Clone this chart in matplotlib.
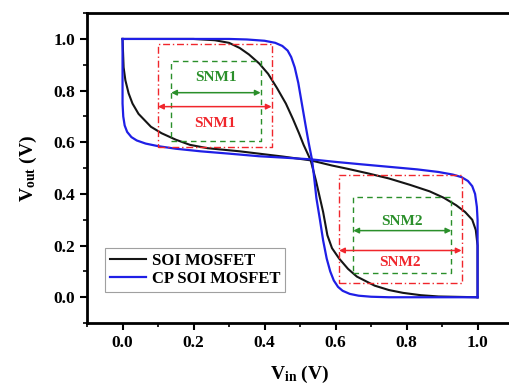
import matplotlib
matplotlib.use('Agg')
import matplotlib.pyplot as plt
from matplotlib.ticker import MultipleLocator

plt.rcParams['font.family'] = ['Liberation Serif', 'DejaVu Serif']
plt.rcParams['font.weight'] = 'bold'
plt.rcParams['mathtext.fontset'] = 'custom'
plt.rcParams['mathtext.rm'] = 'Liberation Serif:bold'
plt.rcParams['mathtext.bf'] = 'Liberation Serif:bold'
plt.rcParams['mathtext.it'] = 'Liberation Serif:bold'

# VTC of the SOI MOSFET inverter (Vin, Vout); butterfly = curve + its mirror
soi_vin = [0.0, 0.2, 0.26, 0.3, 0.33, 0.356, 0.385, 0.41, 0.435, 0.46, 0.48,
           0.497, 0.51, 0.52, 0.53, 0.545, 0.555, 0.565, 0.577, 0.59, 0.61,
           0.635, 0.66, 0.71, 0.75, 0.79, 0.84, 0.89, 1.0]
soi_vout = [1.0, 1.0, 0.995, 0.985, 0.965, 0.94, 0.905, 0.865, 0.81, 0.75, 0.69,
            0.635, 0.59, 0.56, 0.53, 0.45, 0.39, 0.33, 0.24, 0.19, 0.15,
            0.11, 0.08, 0.045, 0.028, 0.017, 0.008, 0.003, 0.0]

# VTC of the CP SOI MOSFET inverter
cp_vin = [0.0, 0.3, 0.35, 0.40, 0.43, 0.45, 0.465, 0.475, 0.485, 0.495, 0.505,
          0.515, 0.524, 0.534, 0.54, 0.546, 0.556, 0.565, 0.575, 0.585, 0.595,
          0.607, 0.62, 0.64, 0.665, 0.7, 0.75, 1.0]
cp_vout = [1.0, 1.0, 0.998, 0.993, 0.985, 0.973, 0.955, 0.93, 0.89, 0.83, 0.75,
           0.67, 0.6, 0.53, 0.46, 0.384, 0.30, 0.22, 0.15, 0.10, 0.065,
           0.04, 0.025, 0.013, 0.006, 0.002, 0.0, 0.0]

# noise-margin boxes: (x0, x1, y0, y1), arrows: (x0, x1, y)
snm1_red = (0.10, 0.42, 0.582, 0.982)
snm1_green = (0.137, 0.389, 0.604, 0.915)
snm2_red = (0.61, 0.955, 0.055, 0.473)
snm2_green = (0.65, 0.926, 0.092, 0.388)
arrow1_red = (0.10, 0.42, 0.738)
arrow1_green = (0.137, 0.389, 0.792)
arrow2_red = (0.61, 0.955, 0.181)
arrow2_green = (0.65, 0.926, 0.258)

red = '#f0262c'
green = '#2a8f2a'
blue = '#1f1fe6'

fig = plt.figure(figsize=(5.09, 3.86), dpi=100)
ax = fig.add_axes([0.171, 0.163, 0.837, 0.803])

ax.plot(soi_vin, soi_vout, color='#151515', lw=1.5, label='SOI MOSFET')
ax.plot(soi_vout, soi_vin, color='#151515', lw=1.5)
ax.plot(cp_vin, cp_vout, color=blue, lw=1.6, label='CP SOI MOSFET')
ax.plot(cp_vout, cp_vin, color=blue, lw=1.6)


def box(b, color, ls):
    x0, x1, y0, y1 = b
    ax.plot([x0, x1, x1, x0, x0], [y0, y0, y1, y1, y0], color=color, ls=ls, lw=1.0)


def arrow(a, color):
    x0, x1, y = a
    ax.annotate('', xy=(x1, y), xytext=(x0, y),
                arrowprops=dict(arrowstyle='<|-|>', color=color, lw=1.1,
                                mutation_scale=8, shrinkA=0, shrinkB=0))


box(snm1_red, red, (0, (5, 2, 1, 2)))
box(snm2_red, red, (0, (5, 2, 1, 2)))
box(snm1_green, green, (0, (4, 3)))
box(snm2_green, green, (0, (4, 3)))
arrow(arrow1_red, red)
arrow(arrow1_green, green)
arrow(arrow2_red, red)
arrow(arrow2_green, green)

ax.text((arrow1_green[0] + arrow1_green[1]) / 2, 0.852, 'SNM1', color=green,
        ha='center', va='center', fontsize=11, fontweight='bold')
ax.text((arrow1_red[0] + arrow1_red[1]) / 2, 0.673, 'SNM1', color=red,
        ha='center', va='center', fontsize=11, fontweight='bold')
ax.text((arrow2_green[0] + arrow2_green[1]) / 2, 0.292, 'SNM2', color=green,
        ha='center', va='center', fontsize=11, fontweight='bold')
ax.text((arrow2_red[0] + arrow2_red[1]) / 2, 0.136, 'SNM2', color=red,
        ha='center', va='center', fontsize=11, fontweight='bold')

ax.set_xlim(-0.1, 1.1)
ax.set_ylim(-0.1, 1.1)
ax.xaxis.set_major_locator(MultipleLocator(0.2))
ax.xaxis.set_minor_locator(MultipleLocator(0.1))
ax.yaxis.set_major_locator(MultipleLocator(0.2))
ax.yaxis.set_minor_locator(MultipleLocator(0.1))
ax.tick_params(which='major', direction='out', length=5, width=1.5, labelsize=12.5)
ax.tick_params(which='minor', direction='out', length=3, width=1.2)
ax.set_xticks([0.0, 0.2, 0.4, 0.6, 0.8, 1.0])
ax.set_yticks([0.0, 0.2, 0.4, 0.6, 0.8, 1.0])
for lab in ax.get_xticklabels() + ax.get_yticklabels():
    lab.set_fontweight('bold')
for s in ax.spines.values():
    s.set_linewidth(2.0)

ax.set_xlabel(r'V$_{\rm in}$ (V)', fontsize=14, fontweight='bold', labelpad=9)
ax.set_ylabel(r'V$_{\rm out}$ (V)', fontsize=14, fontweight='bold', labelpad=10)

leg = ax.legend(loc='lower left', bbox_to_anchor=(0.042, 0.1), fontsize=12,
                fancybox=False, edgecolor='#888888', handlelength=2.15,
                borderpad=0.3, labelspacing=0.15, handletextpad=0.35,
                borderaxespad=0)
leg.get_frame().set_linewidth(0.8)
for t in leg.get_texts():
    t.set_fontweight('bold')

fig.savefig('out.png', dpi=100)
